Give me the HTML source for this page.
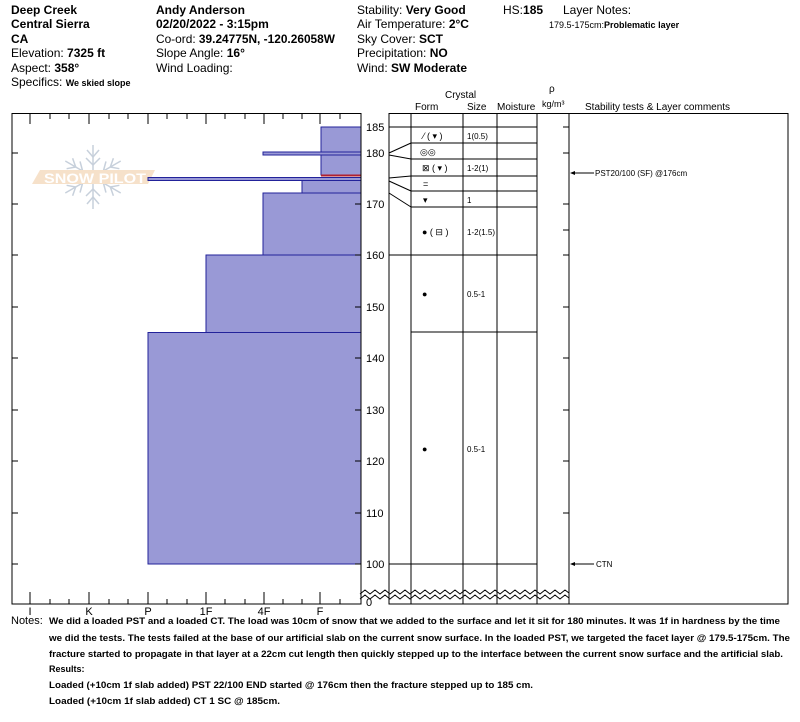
<!DOCTYPE html>
<html><head><meta charset="utf-8"><style>
body{margin:0;background:#fff;}
svg{display:block;font-family:"Liberation Sans Narrow","Liberation Sans",sans-serif;}
</style></head><body>
<svg width="800" height="722" viewBox="0 0 800 722" xmlns="http://www.w3.org/2000/svg">
<g font-size="12" fill="#000">
<text x="11" y="14" font-weight="bold">Deep Creek</text>
<text x="11" y="28" font-weight="bold">Central Sierra</text>
<text x="11" y="43" font-weight="bold">CA</text>
<text x="11" y="57">Elevation: <tspan font-weight="bold">7325 ft</tspan></text>
<text x="11" y="72">Aspect: <tspan font-weight="bold">358°</tspan></text>
<text x="11" y="86">Specifics: <tspan font-weight="bold" font-size="9">We skied slope</tspan></text>
<text x="156" y="14" font-weight="bold">Andy Anderson</text>
<text x="156" y="28" font-weight="bold">02/20/2022 - 3:15pm</text>
<text x="156" y="43" textLength="179" lengthAdjust="spacingAndGlyphs">Co-ord: <tspan font-weight="bold">39.24775N, -120.26058W</tspan></text>
<text x="156" y="57">Slope Angle: <tspan font-weight="bold">16°</tspan></text>
<text x="156" y="72">Wind Loading:</text>
<text x="357" y="14">Stability: <tspan font-weight="bold">Very Good</tspan></text>
<text x="357" y="28">Air Temperature: <tspan font-weight="bold">2°C</tspan></text>
<text x="357" y="43">Sky Cover: <tspan font-weight="bold">SCT</tspan></text>
<text x="357" y="57">Precipitation: <tspan font-weight="bold">NO</tspan></text>
<text x="357" y="72">Wind:  <tspan font-weight="bold">SW Moderate</tspan></text>
<text x="503" y="14">HS:<tspan font-weight="bold">185</tspan></text>
<text x="563" y="14">Layer Notes:</text>
<text x="549" y="28" font-size="9">179.5-175cm:<tspan font-weight="bold">Problematic layer</tspan></text>
</g>
<g font-size="10">
<text x="445" y="98">Crystal</text>
<text x="415" y="110">Form</text>
<text x="467" y="110">Size</text>
<text x="497" y="110">Moisture</text>
<text x="549" y="92">ρ</text>
<text x="542" y="107" font-size="9">kg/m³</text>
<text x="585" y="110">Stability tests &amp; Layer comments</text>
</g>
<!-- watermark -->
<g opacity="0.55">
<g stroke="#9aabbf" stroke-width="1.5" fill="none" transform="translate(93,177)">
<g id="arm"><line x1="0" y1="0" x2="0" y2="-32"/><line x1="0" y1="-12" x2="-7" y2="-19"/><line x1="0" y1="-12" x2="7" y2="-19"/><line x1="0" y1="-20" x2="-6" y2="-27"/><line x1="0" y1="-20" x2="6" y2="-27"/></g>
<use href="#arm" transform="rotate(60)"/><use href="#arm" transform="rotate(120)"/><use href="#arm" transform="rotate(180)"/><use href="#arm" transform="rotate(240)"/><use href="#arm" transform="rotate(300)"/>
</g>
<polygon points="40,170 155,170 148,184 32,184" fill="#f0c9a0"/>
<text x="44" y="183" font-size="14" fill="#fff" font-weight="bold" textLength="102" lengthAdjust="spacingAndGlyphs">SNOW PILOT</text>
</g>
<!-- left plot -->
<g fill="#9999d6" stroke="#22229a" stroke-width="1">
<rect x="321" y="127" width="40" height="25.5"/>
<rect x="263" y="152" width="98" height="3"/>
<rect x="321" y="155" width="40" height="20"/>
<rect x="148" y="177.5" width="213" height="3"/>
<rect x="302" y="180.5" width="59" height="12.5"/>
<rect x="263" y="193" width="98" height="62"/>
<rect x="206" y="255" width="155" height="77.5"/>
<rect x="148" y="332.5" width="213" height="231.5"/>
</g>
<line x1="321" y1="175.5" x2="361" y2="175.5" stroke="#b02030" stroke-width="2"/>
<rect x="12" y="113.5" width="349" height="490.5" fill="none" stroke="#000"/>
<g stroke="#000">
<path d="M30,114v10M89,114v10M148,114v10M206,114v10M264,114v10M320,114v10M30,604v-12M89,604v-12M148,604v-12M206,604v-12M264,604v-12M320,604v-12"/>
<path d="M50,114v5M69,114v5M109,114v5M128,114v5M167,114v5M187,114v5M225,114v5M245,114v5M283,114v5M302,114v5M340,114v5M50,604v-5M69,604v-5M109,604v-5M128,604v-5M167,604v-5M187,604v-5M225,604v-5M245,604v-5M283,604v-5M302,604v-5M340,604v-5"/>
<path d="M12,153h6M12,204h6M12,255h6M12,307h6M12,358h6M12,410h6M12,461h6M12,513h6M12,564h6M355,204h6M355,255h6M355,307h6M355,358h6M355,410h6M355,461h6M355,513h6M355,564h6"/>
</g>
<g font-size="11" text-anchor="middle">
<text x="30" y="615">I</text><text x="89" y="615">K</text><text x="148" y="615">P</text><text x="206" y="615">1F</text><text x="264" y="615">4F</text><text x="320" y="615">F</text>
</g>
<g font-size="11">
<text x="366" y="131">185</text><text x="366" y="157">180</text><text x="366" y="208">170</text><text x="366" y="259">160</text><text x="366" y="311">150</text><text x="366" y="362">140</text><text x="366" y="414">130</text><text x="366" y="465">120</text><text x="366" y="517">110</text><text x="366" y="568">100</text><text x="366" y="606">0</text>
</g>
<!-- right table -->
<g stroke="#000" fill="none">
<path d="M389,113.5H788V604H389Z"/>
<path d="M411,113v491M463,113v491M497,113v491M537,113v491M569,113v491"/>
<path d="M411,127H537M411,143H537M411,159H537M411,176H537M411,191H537M411,207H537M411,255H537M411,332H537M411,564H537M389,127h22M389,255h22M389,564h22"/>
<path d="M389,153L411,143M389,155L411,159M389,178L411,176M389,181L411,191M389,193L411,207"/>
<path d="M563,127h6M563,153h6M563,204h6M563,230h6M563,255h6M563,307h6M563,358h6M563,410h6M563,461h6M563,513h6"/>
<path d="M360,594 l5,-4 5,4 5,-4 5,4 5,-4 5,4 5,-4 5,4 5,-4 5,4 5,-4 5,4 5,-4 5,4 5,-4 5,4 5,-4 5,4 5,-4 5,4 5,-4 5,4 5,-4 5,4 5,-4 5,4 5,-4 5,4 5,-4 5,4 5,-4 5,4 5,-4 5,4 5,-4 5,4 5,-4 5,4 5,-4 5,4 5,-4 4,3"/>
<path d="M360,599 l5,-4 5,4 5,-4 5,4 5,-4 5,4 5,-4 5,4 5,-4 5,4 5,-4 5,4 5,-4 5,4 5,-4 5,4 5,-4 5,4 5,-4 5,4 5,-4 5,4 5,-4 5,4 5,-4 5,4 5,-4 5,4 5,-4 5,4 5,-4 5,4 5,-4 5,4 5,-4 5,4 5,-4 5,4 5,-4 5,4 5,-4 4,3"/>
<path d="M572,173h22M572,564h22"/>
</g>
<path d="M570,173l5,-2v4zM570,564l5,-2v4z" fill="#000"/>
<g font-size="9">
<text x="423" y="139">⁄ ( ▾ )</text>
<text x="420" y="155">◎◎</text>
<text x="422" y="171">⊠ ( ▾ )</text>
<text x="423" y="187">=</text>
<text x="423" y="203">▾</text>
<text x="422" y="235">● ( ⊟ )</text>
<text x="422" y="297">●</text>
<text x="422" y="452">●</text>
<text x="467" y="139" font-size="8">1(0.5)</text>
<text x="467" y="171" font-size="8">1-2(1)</text>
<text x="467" y="203" font-size="8">1</text>
<text x="467" y="235" font-size="8">1-2(1.5)</text>
<text x="467" y="297" font-size="8">0.5-1</text>
<text x="467" y="452" font-size="8">0.5-1</text>
<text x="595" y="176" font-size="8">PST20/100 (SF) @176cm</text>
<text x="596" y="567" font-size="8">CTN</text>
</g>
<g font-size="9" font-weight="bold">
<text x="11" y="624" font-size="11" font-weight="normal">Notes:</text>
<text x="49" y="624" textLength="731" lengthAdjust="spacingAndGlyphs">We did a loaded PST and a loaded CT. The load was 10cm of snow that we added to the surface and let it sit for 180 minutes. It was 1f in hardness by the time</text>
<text x="49" y="641" textLength="741" lengthAdjust="spacingAndGlyphs">we did the tests. The tests failed at the base of our artificial slab on the current snow surface. In the loaded PST, we targeted the facet layer @ 179.5-175cm. The</text>
<text x="49" y="657" textLength="734" lengthAdjust="spacingAndGlyphs">fracture started to propagate in that layer at a 22cm cut length then quickly stepped up to the interface between the current snow surface and the artificial slab.</text>
<text x="49" y="672">Results:</text>
<text x="49" y="688" textLength="484" lengthAdjust="spacingAndGlyphs">Loaded (+10cm 1f slab added) PST 22/100 END started @ 176cm then the fracture stepped up to 185 cm.</text>
<text x="49" y="704" textLength="231" lengthAdjust="spacingAndGlyphs">Loaded (+10cm 1f slab added) CT 1 SC @ 185cm.</text>
</g>
</svg>
</body></html>
